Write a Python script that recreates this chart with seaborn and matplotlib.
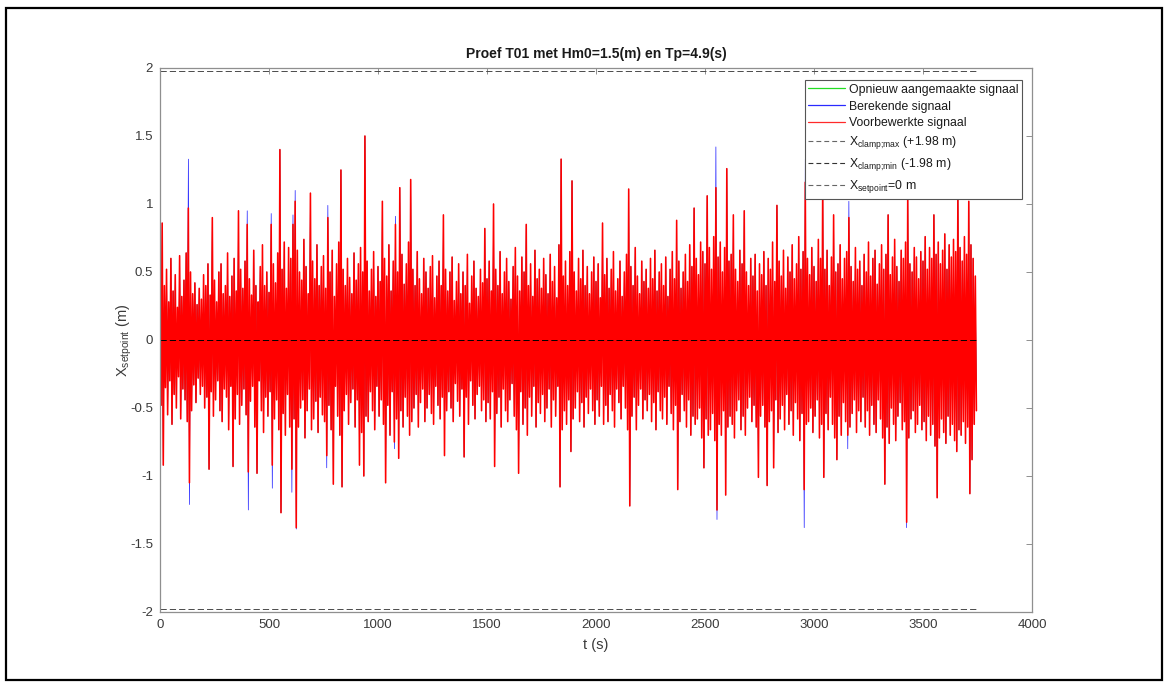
import numpy as np
import pandas as pd
import matplotlib
matplotlib.use("Agg")
import matplotlib.pyplot as plt
import matplotlib.patches as mpatches
from matplotlib.lines import Line2D
import seaborn as sns

# ---------------- data (values in cm) ----------------
t_step = 5.0  # s between successive crest / trough samples

# crests (positive excursions), one every 10 s starting at t = 0
crest_cm = [
    55, 86, 40, 52, 28, 60, 36, 48, 24, 62, 32, 44, 64, 97, 50, 34, 42, 26, 38, 30, 48, 40, 56, 33, 90,
    44, 28, 50, 56, 34, 40, 64, 32, 47, 60, 36, 95, 52, 38, 58, 85, 45, 33, 66, 40, 28, 54, 70, 40, 50,
    35, 85, 56, 42, 64, 140, 52, 72, 38, 68, 60, 85, 102, 66, 50, 44, 74, 54, 34, 108, 58, 45, 70, 40, 54,
    62, 38, 90, 50, 66, 32, 56, 72, 125, 52, 40, 60, 46, 34, 64, 44, 56, 68, 50, 150, 58, 36, 52, 65, 32,
    54, 43, 102, 60, 47, 70, 36, 58, 85, 50, 112, 63, 41, 56, 72, 118, 52, 40, 65, 45, 34, 60, 50, 38, 54,
    62, 31, 47, 58, 40, 92, 52, 36, 50, 61, 29, 43, 56, 34, 50, 40, 63, 27, 47, 58, 38, 32, 52, 42, 82,
    45, 58, 36, 100, 52, 40, 65, 34, 50, 60, 43, 30, 54, 68, 47, 36, 61, 50, 85, 40, 56, 32, 66, 45, 52,
    38, 60, 48, 34, 63, 43, 54, 31, 70, 133, 47, 58, 40, 65, 117, 50, 36, 60, 45, 66, 40, 54, 34, 50, 61,
    43, 56, 31, 86, 48, 60, 38, 52, 65, 36, 45, 58, 32, 50, 63, 111, 54, 40, 68, 47, 34, 58, 43, 52, 38,
    60, 45, 66, 36, 50, 56, 40, 61, 32, 52, 65, 45, 88, 58, 38, 50, 63, 43, 70, 54, 97, 60, 48, 72, 65,
    56, 106, 68, 52, 76, 112, 61, 72, 50, 68, 126, 58, 63, 92, 52, 43, 66, 56, 95, 50, 40, 60, 47, 63, 36,
    56, 48, 65, 40, 60, 52, 72, 43, 99, 58, 47, 66, 38, 61, 50, 70, 45, 56, 76, 52, 65, 116, 60, 48, 68,
    54, 43, 74, 60, 115, 52, 66, 40, 61, 92, 50, 56, 70, 45, 60, 65, 90, 54, 43, 68, 52, 58, 40, 63, 50,
    72, 47, 60, 66, 41, 56, 70, 52, 63, 92, 48, 61, 74, 54, 43, 66, 60, 72, 108, 56, 50, 68, 61, 45, 65,
    58, 76, 52, 68, 60, 92, 63, 72, 56, 66, 78, 52, 70, 61, 74, 65, 106, 68, 58, 76, 63, 102, 70, 60, 47,
]

# troughs (negative excursions), one every 10 s starting at t = 5
trough_cm = [
    -48, -92, -35, -55, -30, -62, -40, -50, -27, -58, -36, -44, -60, -105, -52, -33, -46, -28, -40, -34, -50, -42, -95, -38, -56,
    -44, -30, -52, -60, -36, -42, -66, -34, -93, -58, -40, -62, -48, -36, -55, -97, -45, -34, -64, -98, -30, -52, -68, -42, -56,
    -38, -92, -58, -44, -66, -127, -54, -70, -40, -64, -95, -58, -138, -64, -50, -44, -72, -52, -36, -66, -58, -45, -68, -42, -55,
    -60, -85, -48, -66, -106, -34, -56, -70, -108, -52, -40, -62, -46, -36, -64, -44, -92, -68, -100, -56, -60, -38, -52, -66, -34,
    -56, -44, -62, -105, -48, -70, -38, -75, -58, -87, -52, -64, -42, -56, -70, -60, -50, -40, -64, -46, -36, -60, -50, -40, -54,
    -62, -34, -48, -58, -42, -85, -52, -38, -50, -60, -32, -45, -56, -36, -86, -42, -62, -30, -48, -58, -40, -34, -52, -44, -60,
    -46, -58, -38, -93, -54, -42, -64, -36, -52, -60, -44, -32, -56, -66, -98, -38, -62, -50, -70, -42, -56, -34, -64, -46, -54,
    -40, -60, -50, -36, -64, -44, -56, -34, -108, -66, -52, -62, -44, -82, -58, -50, -38, -60, -46, -64, -42, -54, -36, -52, -62,
    -44, -56, -34, -62, -48, -60, -40, -52, -64, -36, -46, -58, -34, -50, -66, -122, -56, -42, -66, -48, -36, -58, -44, -52, -40,
    -60, -46, -66, -38, -52, -58, -42, -62, -34, -54, -66, -48, -110, -60, -40, -52, -64, -44, -70, -56, -62, -58, -50, -72, -94,
    -58, -70, -66, -54, -74, -125, -62, -70, -52, -114, -64, -56, -62, -72, -52, -44, -66, -56, -70, -50, -42, -60, -48, -64, -101,
    -56, -48, -64, -107, -60, -52, -94, -44, -68, -58, -48, -66, -40, -62, -52, -70, -46, -58, -74, -54, -110, -62, -60, -50, -68,
    -56, -44, -72, -62, -101, -54, -66, -42, -62, -72, -88, -56, -70, -46, -60, -70, -64, -54, -44, -68, -52, -60, -42, -64, -52,
    -70, -48, -62, -68, -44, -58, -72, -106, -64, -76, -50, -62, -74, -56, -46, -66, -60, -134, -72, -58, -52, -68, -62, -48, -66,
    -60, -74, -56, -70, -62, -78, -116, -72, -58, -68, -76, -56, -70, -62, -74, -82, -66, -70, -60, -76, -64, -113, -88, -62, -52,
]

# where the computed (blue) signal differs from the preprocessed one
blue_crest_idx = [13, 40, 51, 61, 62, 77, 108, 255, 296, 316]
blue_crest_cm = [133, 95, 93, 92, 110, 99, 91, 142, 133, 102]
blue_trough_idx = [13, 40, 51, 60, 62, 76, 107, 255, 295, 315, 342]
blue_trough_cm = [-121, -125, -109, -112, -139, -94, -80, -132, -138, -80, -138]

x_clamp_max = 1.98
x_clamp_min = -1.98
x_setpoint = 0.0

title = "Proef T01 met Hm0=1.5(m) en Tp=4.9(s)"
labels = [
    "Opnieuw aangemaakte signaal",
    "Berekende signaal",
    "Voorbewerkte signaal",
    r"X$_{\mathregular{clamp;\!max}}$ (+1.98 m)",
    r"X$_{\mathregular{clamp;\!min}}$ (-1.98 m)",
    r"X$_{\mathregular{setpoint}}$=0 m",
]
x_ticks = [0, 500, 1000, 1500, 2000, 2500, 3000, 3500, 4000]
y_ticks = [-2, -1.5, -1, -0.5, 0, 0.5, 1, 1.5, 2]

# ---------------- build series ----------------
crest = np.array(crest_cm) / 100.0
trough = np.array(trough_cm) / 100.0
n = len(crest) + len(trough)
red = np.empty(n)
red[0::2] = crest
red[1::2] = trough
t = np.arange(n) * t_step

blue_c = crest.copy()
blue_c[blue_crest_idx] = np.array(blue_crest_cm) / 100.0
blue_t = trough.copy()
blue_t[blue_trough_idx] = np.array(blue_trough_cm) / 100.0
blue = np.empty(n)
blue[0::2] = blue_c
blue[1::2] = blue_t

df = pd.DataFrame({"t": t, "green": red, "blue": blue, "red": red})

# ---------------- style ----------------
sns.set_theme(style="white")
plt.rcParams["font.family"] = ["Liberation Sans", "DejaVu Sans"]
plt.rcParams["mathtext.fontset"] = "custom"
plt.rcParams["mathtext.rm"] = "Liberation Sans"
plt.rcParams["axes.unicode_minus"] = False
plt.rcParams["lines.scale_dashes"] = False

W, H = 1168, 686
fig = plt.figure(figsize=(W / 100, H / 100), dpi=100)
fig.patch.set_facecolor("white")
ax = fig.add_axes([160 / W, 1 - 612 / H, (1032 - 160) / W, (612 - 68) / H])

sns.lineplot(data=df, x="t", y="green", ax=ax, color="#00ff00", linewidth=0.35,
             estimator=None, sort=False, legend=False)
sns.lineplot(data=df, x="t", y="blue", ax=ax, color="#0000ff", linewidth=0.45,
             estimator=None, sort=False, legend=False)
sns.lineplot(data=df, x="t", y="red", ax=ax, color="#ff0000", linewidth=1.15,
             estimator=None, sort=False, legend=False)

dash = (0, (4.5, 2.2))
dcol = "#4a4a4a"
ax.hlines([x_clamp_max, x_clamp_min], t[0], t[-1], colors=dcol, linestyles=dash, linewidth=0.7)
ax.hlines([x_setpoint], t[0], t[-1], colors="#000000", linestyles=dash, linewidth=0.7)

ax.set_xlim(x_ticks[0], x_ticks[-1])
ax.set_ylim(y_ticks[0], y_ticks[-1])
ax.set_xticks(x_ticks)
ax.set_yticks(y_ticks)
ax.set_xticklabels([str(v) for v in x_ticks])
ax.set_yticklabels([("%g" % v) for v in y_ticks])

spine_col = "#8f8f8f"
for s in ax.spines.values():
    s.set_visible(True)
    s.set_color(spine_col)
    s.set_linewidth(0.9)
ax.tick_params(axis="both", direction="in", length=4, width=0.7, color=spine_col,
               labelsize=9.5, labelcolor="#3a3a3a", top=True, right=True, pad=5)

ax.set_title(title, fontsize=10, fontweight="bold", color="#1a1a1a", pad=7)
ax.set_xlabel("t (s)", fontsize=10.5, color="#3a3a3a", labelpad=5)
ax.set_ylabel(r"X$_{\mathregular{setpoint}}$ (m)", fontsize=10.5, color="#3a3a3a", labelpad=-3)
ax.grid(False)

handles = [
    Line2D([], [], color="#22dd22", linewidth=0.9),
    Line2D([], [], color="#2a2aff", linewidth=0.9),
    Line2D([], [], color="#ff2a2a", linewidth=0.9),
    Line2D([], [], color="#666666", linewidth=0.8, linestyle=(0, (3.5, 2.2))),
    Line2D([], [], color="#333333", linewidth=0.8, linestyle=(0, (3.5, 2.2))),
    Line2D([], [], color="#666666", linewidth=0.8, linestyle=(0, (3.5, 2.2))),
]
leg = ax.legend(handles, labels, loc="upper right",
                bbox_to_anchor=(1022 / W, 1 - 80 / H), bbox_transform=fig.transFigure,
                fontsize=8.8, frameon=True, fancybox=False, borderaxespad=0,
                handlelength=3.0, handletextpad=0.3, labelspacing=0.4,
                borderpad=0.3, framealpha=1)
leg.get_frame().set_edgecolor("#555555")
leg.get_frame().set_linewidth(0.8)
for txt in leg.get_texts():
    txt.set_color("#1a1a1a")

# outer black frame
fig.patches.append(mpatches.Rectangle((6 / W, 1 - 680 / H), (1162 - 6) / W, (680 - 8) / H,
                                      transform=fig.transFigure, fill=False,
                                      edgecolor="black", linewidth=1.6))

fig.savefig("out.png", dpi=100, facecolor="white")
